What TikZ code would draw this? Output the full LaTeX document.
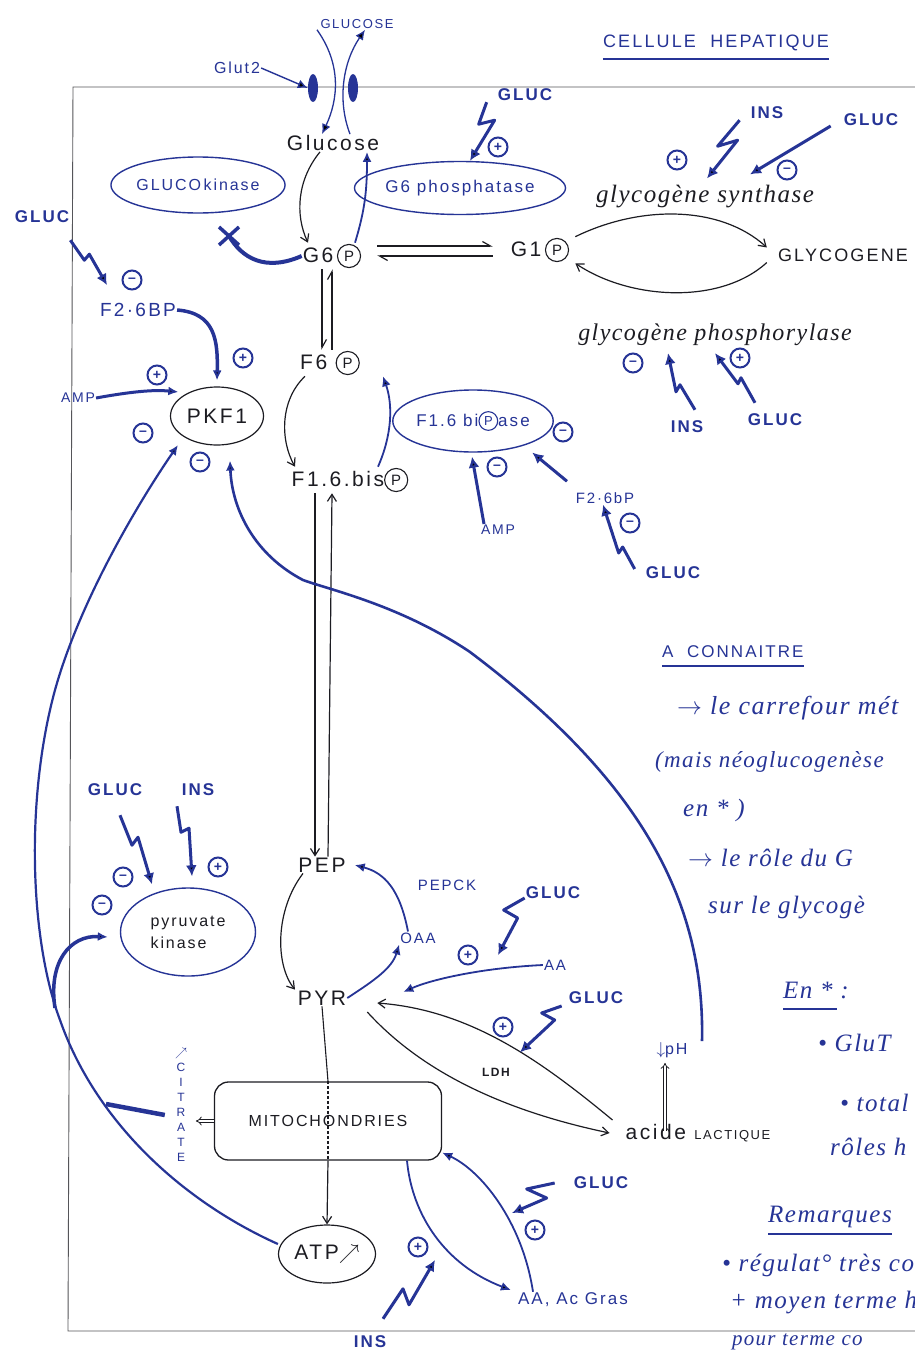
\documentclass[tikz,border=0pt]{standalone}
\usepackage{fontspec}
\setmainfont{Liberation Sans}
\newfontfamily\hw[LetterSpace=12]{Liberation Sans}
\newfontfamily\hand[LetterSpace=6]{Liberation Serif}
\usetikzlibrary{arrows.meta,shapes.geometric,calc}
\definecolor{ink}{RGB}{38,52,150}
\definecolor{pen}{RGB}{28,28,34}
\newcommand\fsz[1]{\fontsize{#1}{#1}\selectfont}
\newcommand\cP[1][13]{\tikz[baseline=-0.6ex]\node[draw,circle,inner sep=0pt,line width=1.1pt,minimum size=1.1em,font=\fsz{#1}]{P};}
\tikzset{
  lbl/.style={text=pen, font=\hw\fsz{21}, inner sep=1pt},
  blbl/.style={text=ink, font=\hw\bfseries\fsz{17}, inner sep=1pt},
  bsm/.style={text=ink, font=\hw\fsz{14}, inner sep=1pt},
  enz/.style={ellipse, draw=ink, line width=1.4pt, inner sep=0pt},
  penell/.style={ellipse, draw=pen, line width=1.2pt, inner sep=0pt},
  sgn/.style={circle, draw=ink, line width=2pt, text=ink, minimum size=19pt, inner sep=0pt, font=\bfseries\fsz{14}},
  blk/.style={draw=pen, line width=1.2pt, -{Straight Barb[length=7pt,width=9pt]}},
  harp/.style={draw=pen, line width=1.2pt, -{Straight Barb[harpoon,length=8pt,width=9pt]}},
  bl/.style={draw=ink, line width=1.8pt, -{Latex[length=10pt,width=9pt]}},
  bolt/.style={draw=ink, line width=3pt, line join=round, -{Latex[length=11pt,width=11pt]}},
  note/.style={text=ink, font=\hand\itshape\fsz{25}, anchor=west, inner sep=0pt},
  dbl/.style={draw=pen, line width=0.8pt, double, double distance=2.2pt, -{Implies}},
}
\begin{document}
\begin{tikzpicture}[x=1pt,y=-1pt]
\useasboundingbox (0,0) rectangle (915,1354);
\clip (0,0) rectangle (915,1354);
\fill[white] (0,0) rectangle (915,1354);

% cell outline
\draw[pen!75, line width=0.9pt] (940,87) -- (73,87) -- (68,1331) -- (940,1331);

% title
\node[text=ink, font=\hw\fsz{18}, inner sep=0pt] (title) at (716,43) {CELLULE\ \ HEPATIQUE};
\draw[ink, line width=2pt] ([yshift=-8pt]title.south west) -- ([yshift=-8pt]title.south east);

% ---------- nodes ----------
\node[bsm, font=\hw\fsz{13}] (gtop) at (357,24) {GLUCOSE};
\node[bsm, font=\hw\fsz{16}] (glut) at (237,68) {Glut2};
\node[ellipse, fill=ink, minimum width=10pt, minimum height=28pt, inner sep=0pt] (tr1) at (313,88) {};
\node[ellipse, fill=ink, minimum width=10pt, minimum height=28pt, inner sep=0pt] (tr2) at (353,88) {};
\node[lbl] (glc) at (333,143) {Glucose};
\node[enz, minimum width=143pt, minimum height=56pt, text=ink, font=\hw\fsz{16}] (gk) at (198,185) {GLUCO\,kinase};
\node[enz, minimum width=165pt, minimum height=53pt, text=ink, font=\hw\fsz{17}] (g6pase) at (460,188) {G6 phosphatase};
\node[lbl] (g6p) at (332,256) {G6\,\cP[15]};
\node[lbl] (g1p) at (540,250) {G1\,\cP[15]};
\node[lbl, font=\hw\fsz{18}] (glyco) at (843,255) {GLYCOGENE};
\node[text=pen, font=\hand\itshape\fsz{25}, inner sep=1pt] (gs) at (705,197) {glycogène synthase};
\node[text=pen, font=\hand\itshape\fsz{24}, inner sep=1pt] (gp) at (715,335) {glycogène phosphorylase};
\node[lbl] (f6p) at (330,363) {F6 \cP[15]};
\node[lbl] (f16) at (350,480) {F1.6.bis\cP[15]};
\node[enz, minimum width=147pt, minimum height=62pt, text=ink, font=\hw\fsz{17}] (fbpase) at (473,421) {F1.6 bi\cP[13]ase};
\node[penell, lbl, minimum width=93pt, minimum height=58pt] (pkf1) at (217,416) {PKF1};
\node[bsm, font=\hw\fsz{19}] (f26a) at (138,310) {F2·6BP};
\node[bsm] (amp1) at (78,398) {AMP};
\node[bsm] (amp2) at (498,530) {AMP};
\node[bsm, font=\hw\fsz{15}] (f26b) at (605,498) {F2·6bP};
\node[lbl] (pep) at (322,865) {PEP};
\node[lbl] (pyr) at (322,998) {PYR};
\node[bsm, font=\hw\fsz{15}] (oaa) at (418,938) {OAA};
\node[bsm, font=\hw\fsz{15}] (pepck) at (447,885) {PEPCK};
\node[bsm, font=\hw\fsz{15}] (aa) at (555,965) {AA};
\node[enz, minimum width=135pt, minimum height=88pt, text=pen, font=\hw\fontsize{16}{22}\selectfont, align=left] (pk) at (188,932) {pyruvate\\kinase};
\node[draw=pen, line width=1.3pt, rounded corners=14pt, minimum width=227pt, minimum height=78pt, text=pen, font=\hw\fsz{16}] (mito) at (328,1121) {MITOCHONDRIES};
\node[penell, lbl, minimum width=97pt, minimum height=58pt] (atp) at (327,1254) {ATP$\nearrow$};
\node[text=ink, font=\hw\fontsize{12}{15}\selectfont, align=center, inner sep=0pt] (cit) at (181,1105) {$\nearrow$\\C\\I\\T\\R\\A\\T\\E};
\node[lbl] (lac) at (698,1133) {acide {\fsz{13}LACTIQUE}};
\node[bsm, font=\hw\fsz{16}] (ph) at (672,1050) {$\downarrow$pH};
\node[text=pen, font=\hw\bfseries\fsz{12}] (ldh) at (496,1072) {LDH};
\node[bsm, font=\hw\fsz{17}] (aag) at (573,1300) {AA, Ac Gras};

% hormones
\node[blbl] (gl1) at (525,95) {GLUC};
\node[blbl] (gl2) at (871,120) {GLUC};
\node[blbl] (gl3) at (42,217) {GLUC};
\node[blbl] (gl4) at (775,420) {GLUC};
\node[blbl] (gl5) at (673,573) {GLUC};
\node[blbl] (gl6) at (115,790) {GLUC};
\node[blbl] (gl7) at (553,893) {GLUC};
\node[blbl] (gl8) at (596,998) {GLUC};
\node[blbl] (gl9) at (601,1183) {GLUC};
\node[blbl] (in1) at (767,113) {INS};
\node[blbl] (in2) at (687,427) {INS};
\node[blbl] (in3) at (198,790) {INS};
\node[blbl] (in4) at (370,1342) {INS};

% signs
\node[sgn] (s1) at (498,147) {+};
\node[sgn] (s2) at (677,160) {+};
\node[sgn] (s3) at (787,170) {–};
\node[sgn] (s4) at (132,280) {–};
\node[sgn] (s5) at (243,358) {+};
\node[sgn] (s6) at (157,375) {+};
\node[sgn] (s7) at (143,433) {–};
\node[sgn] (s8) at (200,462) {–};
\node[sgn] (s9) at (633,363) {–};
\node[sgn] (s10) at (740,358) {+};
\node[sgn] (s11) at (563,432) {–};
\node[sgn] (s12) at (497,467) {–};
\node[sgn] (s13) at (630,523) {–};
\node[sgn] (s14) at (123,877) {–};
\node[sgn] (s15) at (102,905) {–};
\node[sgn] (s16) at (218,867) {+};
\node[sgn] (s17) at (468,955) {+};
\node[sgn] (s18) at (503,1027) {+};
\node[sgn] (s19) at (535,1230) {+};
\node[sgn] (s20) at (418,1247) {+};

% ---------- connectors ----------
\draw[bl, line width=1.4pt] (glut.east) -- (tr1.west);
\draw[bl, line width=1.3pt] ([xshift=-40pt]gtop.south) .. controls (342,65) and (338,100) .. ([xshift=-11pt]glc.north);
\draw[bl, line width=1.3pt] ([xshift=17pt]glc.north) .. controls (337,100) and (343,62) .. ([xshift=8pt]gtop.south);

\draw[blk] ([xshift=-13pt]glc.south) .. controls (297,180) and (295,215) .. ([xshift=-24pt]g6p.north);
\draw[bl] ([xshift=23pt]g6p.north) .. controls (365,210) and (367,190) .. ([xshift=34pt]glc.south);

\coordinate (xmark) at (229,236);
\draw[ink, line width=4pt] (g6p.west) .. controls (265,272) and (242,258) .. (xmark);
\draw[ink, line width=3.5pt] ([shift={(-10pt,-9pt)}]xmark) -- ([shift={(10pt,9pt)}]xmark);
\draw[ink, line width=3.5pt] ([shift={(-10pt,9pt)}]xmark) -- ([shift={(10pt,-9pt)}]xmark);

\draw[harp] ([shift={(15pt,10pt)}]g6p.east) -- ([shift={(-17pt,4pt)}]g1p.west);
\draw[harp] ([shift={(-17pt,-6pt)}]g1p.west) -- ([shift={(15pt,0pt)}]g6p.east);

\draw[blk] ([xshift=5pt]g1p.north east) .. controls (640,205) and (720,205) .. ([xshift=-10pt]glyco.north west);
\draw[blk] ([xshift=-10pt]glyco.south west) .. controls (720,305) and (630,300) .. ([xshift=5pt]g1p.south east);

\draw[harp] ([xshift=-10pt]g6p.south) -- ([xshift=-8pt]f6p.north);
\draw[harp] ([xshift=2pt]f6p.north) -- ([xshift=0pt]g6p.south);

\draw[blk] ([xshift=-25pt]f6p.south) .. controls (280,400) and (280,440) .. ([xshift=-55pt]f16.north);
\draw[bl] ([xshift=28pt]f16.north) .. controls (392,435) and (393,405) .. ([xshift=53pt]f6p.south);

\draw[blk] ([xshift=-35pt]f16.south) -- ([xshift=-7pt]pep.north);
\draw[blk] ([xshift=6pt]pep.north) -- ([xshift=-18pt]f16.south);

\draw[blk] ([xshift=-19pt]pep.south) .. controls (275,910) and (275,965) .. ([xshift=-27pt]pyr.north);
\draw[bl] (pyr.east) .. controls (375,980) and (392,968) .. (oaa.south west);
\draw[bl] ([xshift=-10pt]oaa.north) .. controls (400,890) and (385,873) .. ([xshift=8pt]pep.east);
\draw[bl] (aa.west) .. controls (480,968) and (430,980) .. ([shift={(56pt,6pt)}]pyr.east);

\draw[blk] ([shift={(-12pt,13pt)}]lac.west) .. controls (540,1060) and (470,1010) .. ([shift={(30pt,-5pt)}]pyr.east);
\draw[blk] ([shift={(20pt,-14pt)}]pyr.east) .. controls (420,1070) and (500,1110) .. ([xshift=-15pt]lac.west);

\draw[dbl] ([shift={(-33pt,-8pt)}]lac.north) -- ([shift={(-7pt,-4pt)}]ph.south);

% long feedback curves
\draw[bl, line width=2.6pt] ([xshift=30pt]ph.north) .. controls (705,900) and (640,780) .. (470,652)
   .. controls (400,605) and (330,590) .. (303,580)
   .. controls (255,555) and (232,510) .. ([shift={(13pt,-15pt)}]pkf1.south);
\draw[bl, line width=2.2pt] ([yshift=10pt]atp.west) .. controls (180,1200) and (95,1120) .. (60,1020)
   .. controls (30,940) and (25,800) .. (55,690)
   .. controls (80,600) and (140,500) .. ([shift={(-39pt,-29pt)}]pkf1.center);
\coordinate (cj) at (106,1104);
\coordinate (pkj) at (55,1008);
\draw[ink, line width=4.5pt] ([shift={(-10pt,-10pt)}]cit.west) -- (cj);
\draw[bl, line width=3.5pt] (pkj) .. controls (48,962) and (70,935) .. ([shift={(-12pt,-5pt)}]pk.west);

\draw[bl, line width=3pt] (amp1.east) .. controls (140,390) and (158,390) .. ([shift={(-4pt,4pt)}]pkf1.150);
\draw[bl, line width=3.5pt] (f26a.east) .. controls (215,313) and (218,340) .. ([yshift=6pt]pkf1.north);

% mitochondria
\draw[pen, line width=1.1pt] (pyr.south) -- (mito.north);
\draw[pen, line width=1.2pt, densely dashed] (mito.north) -- (mito.south);
\draw[blk] (mito.south) -- (atp.north);
\draw[dbl] (mito.west) -- ([xshift=-18pt]mito.west);
\draw[bl] ([xshift=79pt]mito.south) .. controls (412,1215) and (445,1265) .. ([shift={(-6pt,10pt)}]aag.west);
\draw[bl] ([xshift=-40pt]aag.north) .. controls (522,1220) and (480,1170) .. ([yshift=8pt]mito.south east);

% lightning bolts
\draw[bolt] ([xshift=-10pt]gl1.south west) -- ++(-8,22) -- ++(16,-4) -- ([xshift=10pt]g6pase.north);
\draw[bolt] ([xshift=-10pt]in1.south west) -- ++(-22,26) -- ++(20,-6) -- ([shift={(2pt,6pt)}]gs.north);
\draw[bolt] ([shift={(-12pt,-6pt)}]gl2.west) -- ([shift={(45pt,10pt)}]gs.north);
\draw[bolt] ([yshift=-16pt]gl3.south east) -- ++(14,20) -- ++(5,-6) -- ([shift={(-31pt,17pt)}]f26a.north);
\draw[bolt] ([shift={(8pt,10pt)}]in2.north) -- ++(-15,-25) -- ++(-4,7) -- ([shift={(-47pt,-6pt)}]gp.south);
\draw[bolt] ([shift={(-20pt,10pt)}]gl4.north) -- ++(-14,-25) -- ++(-3,6) -- ([shift={(0pt,-6pt)}]gp.south);
\draw[bolt] ([xshift=-14pt]amp2.north) -- ([shift={(-1pt,-4pt)}]fbpase.south);
\draw[bolt] ([shift={(-38pt,10pt)}]f26b.north) -- ([yshift=-10pt]fbpase.-20);
\draw[bolt] ([shift={(-10pt,4pt)}]gl5.west) -- ++(-12,-22) -- ++(-4,6) -- ([xshift=-2pt]f26b.south);
\draw[bolt] ([shift={(5pt,-18pt)}]gl6.south) -- ++(12,30) -- ++(6,-8) -- ([shift={(-36pt,3pt)}]pk.north);
\draw[bolt] ([shift={(-21pt,-9pt)}]in3.south) -- ++(4,26) -- ++(8,-4) -- ([shift={(4pt,11pt)}]pk.north);
\coordinate (b7) at (498,955);
\draw[bolt] ([shift={(0pt,-5pt)}]gl7.west) -- ++(-21,12) -- ++(14,8) -- (b7);
\draw[bolt] ([shift={(-6pt,-8pt)}]gl8.west) -- ++(-20,7) -- ++(13,7) -- ([shift={(24pt,12pt)}]ldh.north);
\coordinate (b9) at (512,1213);
\draw[bolt] ([xshift=-18pt]gl9.west) -- ++(-28,6) -- ++(20,9) -- (b9);
\coordinate (b10) at (435,1260);
\draw[bolt] ([shift={(13pt,16pt)}]in4.north) -- ++(20,-30) -- ++(6,16) -- (b10);

% ---------- notes ----------
\node[text=ink, font=\hw\fsz{17}, anchor=west, inner sep=0pt] (acon) at (662,652) {A\ \ CONNAITRE};
\draw[ink, line width=2pt] ([yshift=-8pt]acon.south west) -- ([yshift=-8pt]acon.south east);
\node[note, font=\hand\itshape\fsz{26}] (n1) at (677,708) {$\rightarrow$ le carrefour mét};
\node[note, font=\hand\itshape\fsz{23}] (n2) at (655,762) {(mais néoglucogenèse};
\node[note] (n3) at (683,810) {en * )};
\node[note] (n4) at (688,858) {$\rightarrow$ le rôle du G};
\node[note] (n5) at (708,908) {sur le glycogè};
\node[note] (n6) at (783,990) {En * :};
\draw[ink, line width=2pt] ([yshift=-10pt]n6.south west) -- ([xshift=-12pt,yshift=-10pt]n6.south east);
\node[note] (n7) at (818,1043) {• GluT};
\node[note] (n8) at (840,1103) {• total};
\node[note] (n9) at (830,1147) {rôles h};
\node[note] (n10) at (768,1217) {Remarques};
\draw[ink, line width=2pt] ([yshift=-6pt]n10.south west) -- ([yshift=-6pt]n10.south east);
\node[note] (n11) at (722,1265) {• régulat° très co};
\node[note] (n12) at (730,1303) {+ moyen terme h};
\node[note, font=\hand\itshape\fsz{21}] (n13) at (732,1342) {pour terme co};
\end{tikzpicture}
\end{document}
